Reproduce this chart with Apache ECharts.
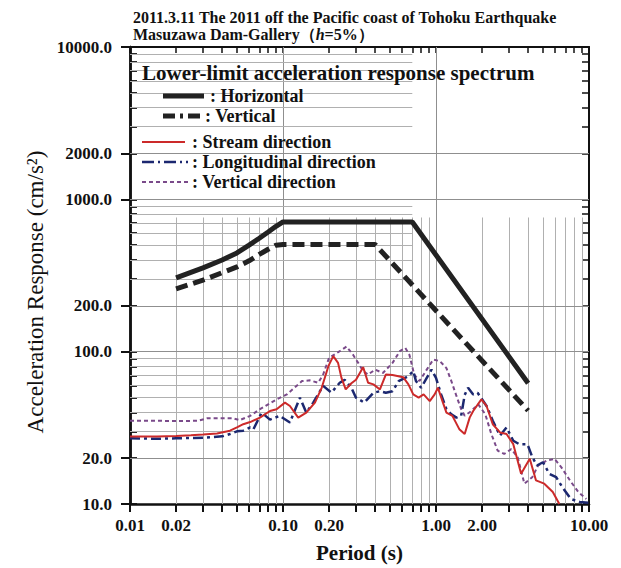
<!DOCTYPE html>
<html><head><meta charset="utf-8">
<script src="https://cdn.jsdelivr.net/npm/echarts@6/dist/echarts.min.js"></script>
<style>html,body{margin:0;padding:0;background:#fff}#c{width:621px;height:568px}</style>
</head><body><div id="c"></div>
<script>
// ---- tick labels ----
const xTickLabels = [0.01, 0.02, 0.1, 0.2, 1, 2, 10];
const yTickLabels = [10, 20, 100, 200, 1000, 2000, 10000];

// ---- lower-limit acceleration response spectrum ----
const horizT = [0.02, 0.03, 0.04, 0.05, 0.06, 0.07, 0.08, 0.09, 0.1, 0.7, 4.0];
const horizV = [305, 355, 400, 445, 500, 555, 610, 665, 710, 710, 62];
const vertT  = [0.02, 0.03, 0.04, 0.05, 0.06, 0.07, 0.08, 0.09, 0.1, 0.4, 4.0];
const vertV  = [258, 295, 330, 360, 395, 435, 470, 500, 505, 505, 41];

// ---- observed spectra ----
const streamT = [0.01,0.015,0.02,0.025,0.03,0.037,0.045,0.05,0.055,0.061,0.0707,0.0822,0.0908,0.103,0.111,0.1257,0.142,0.1617,0.179,0.198,0.213,0.229,0.241,0.257,0.28,0.30,0.334,0.36,0.39,0.43,0.47,0.52,0.61,0.66,0.71,0.77,0.83,0.91,0.98,1.03,1.11,1.17,1.28,1.42,1.54,1.66,1.75,1.98,2.14,2.35,2.62,2.89,3.2,3.6,4.1,4.5,5.1,5.8,6.4];
const streamV = [27.7,27.7,28.0,28.3,28.6,29.0,30.3,31.8,33.4,34.5,36.9,40.8,41.9,46.3,44,36.9,39.8,46.3,57.9,80.3,93.4,84.4,67.3,56.5,62,65.5,79.1,62.5,61,56.5,70.8,70.2,68,61,52.4,49.9,52.4,47.4,52.4,57.9,46.3,39.8,37.9,31,28.8,36.9,40.8,48.6,44,33.4,29.5,28.8,24.7,15.8,19.8,14.3,13.6,12.0,10.0];

const longT = [0.01,0.015,0.02,0.03,0.04,0.045,0.05,0.055,0.061,0.064,0.0725,0.0822,0.095,0.111,0.129,0.142,0.1576,0.183,0.207,0.235,0.253,0.28,0.30,0.34,0.39,0.43,0.47,0.52,0.57,0.66,0.71,0.74,0.80,0.87,0.935,1.0,1.08,1.17,1.26,1.36,1.46,1.54,1.62,1.75,1.87,2.14,2.35,2.62,2.89,3.2,3.5,3.96,4.26,4.57,5.0,5.5,6.1,6.7,7.6,8.7,9.9];
const longV = [27.0,26.8,27.0,27.2,27.8,28.8,30.0,30.3,31.8,30.9,39.8,35.8,37.9,34.3,49.9,39.8,46.3,59.6,53.8,62.5,65.4,57.9,49.9,46.3,53.7,55,53.7,55,64.1,69.1,74.5,64.1,57.9,67.3,76.2,67.3,52.4,41.9,38.8,36.9,38,52,58,52.4,53.7,44,35.2,28.1,31.8,26,24.7,24.7,20.3,17.9,18.8,15.8,15.0,12.9,10.8,10.3,10.2];

const vdirT = [0.01,0.015,0.02,0.028,0.032,0.047,0.052,0.061,0.0707,0.077,0.0908,0.106,0.133,0.15,0.17,0.183,0.2,0.235,0.26,0.287,0.31,0.334,0.36,0.40,0.45,0.52,0.58,0.63,0.67,0.72,0.78,0.87,0.96,1.06,1.17,1.26,1.36,1.46,1.54,1.66,1.89,2.1,2.3,2.53,2.79,3.1,3.42,3.78,4.26,4.65,5.26,5.95,6.6,7.5,8.5,9.6];
const vdirV = [35.2,35.2,35.0,35.2,36.6,36.6,35.5,37.9,41.9,44,48.6,52.4,64.1,64.8,62.5,70.8,91,100.7,108,95.5,84.4,74.5,70.8,76.2,72.5,84.4,100.7,105.8,95.5,70.8,64.1,76.2,88.8,86.7,78,64.1,51.2,42,38,40,45.1,38.8,28.8,22.4,21.3,22.9,20.3,13.6,15,17.9,19.2,19.8,17.4,14.3,12,10.8];

const pairs = (t, v) => t.map((x, i) => [x, v[i]]);

// ---- grid / tick helpers (axis styling, not data) ----
function multiples(decades, last) {
  const out = [];
  decades.forEach(d => { for (let k = 1; k <= 9; k++) out.push(+(d * k).toPrecision(6)); });
  out.push(last);
  return out;
}
const allX = multiples([0.01, 0.1, 1], 10);
const allY = multiples([10, 100, 1000], 10000);
const fullX = [0.1, 1];
const fullY = [20, 100, 200, 1000, 2000];

const gridLines = [];
allX.forEach(x => {
  if (x === 0.01 || x === 10) return;
  if (fullX.includes(x)) gridLines.push([{ coord: [x, 10], lineStyle: { color: '#8f8f8f' } }, { coord: [x, 10000] }]);
  else gridLines.push([{ coord: [x, 10] }, { coord: [x, 760] }]);
});
allY.forEach(y => {
  if (y === 10 || y === 10000) return;
  if (fullY.includes(y)) gridLines.push([{ coord: [0.01, y], lineStyle: { color: '#8f8f8f' } }, { coord: [10, y] }]);
  else gridLines.push([{ coord: [0.01, y] }, { coord: [0.7, y] }]);
});

const serif = "'Liberation Serif', 'DejaVu Serif', serif";
const chart = echarts.init(document.getElementById('c'), null, { renderer: 'svg' });

const tickStyle = w => ({ color: '#111', width: w });

chart.setOption({
  animation: false,
  backgroundColor: '#fff',
  title: {
    left: 128, top: 4,
    text: '{a|2011.3.11 The 2011 off the Pacific coast of Tohoku Earthquake}\n{a|Masuzawa Dam-Gallery（}{i|h}{a|=5%）}',
    textStyle: {
      rich: {
        a: { fontFamily: serif, fontWeight: 'bold', fontSize: 16, color: '#111', lineHeight: 17 },
        i: { fontFamily: serif, fontWeight: 'bold', fontStyle: 'italic', fontSize: 16, color: '#111', lineHeight: 17 }
      }
    }
  },
  grid: { left: 130, right: 32, top: 47, bottom: 61, containLabel: false },
  xAxis: [
    {
      type: 'log', logBase: 10, min: 0.01, max: 10, position: 'bottom',
      name: 'Period (s)', nameLocation: 'middle', nameGap: 38,
      nameTextStyle: { fontFamily: serif, fontWeight: 'bold', fontSize: 21, color: '#111' },
      axisLine: { lineStyle: { color: '#111', width: 2.5 } },
      axisTick: { customValues: allX, length: 8, inside: false, lineStyle: tickStyle(2) },
      axisLabel: { customValues: xTickLabels, formatter: v => Number(v).toFixed(2), fontFamily: serif, fontWeight: 'bold', fontSize: 17, color: '#111', margin: 13 },
      splitLine: { show: false }
    },
    {
      type: 'log', logBase: 10, min: 0.01, max: 10, position: 'top',
      axisLine: { lineStyle: { color: '#111', width: 2 } },
      axisTick: { customValues: allX, length: 6, inside: true, lineStyle: tickStyle(1.5) },
      axisLabel: { show: false }, splitLine: { show: false }
    }
  ],
  yAxis: [
    {
      type: 'log', logBase: 10, min: 10, max: 10000, position: 'left',
      axisLine: { lineStyle: { color: '#111', width: 2.5 } },
      axisTick: { customValues: yTickLabels, length: 9, inside: false, lineStyle: tickStyle(2) },
      axisLabel: { customValues: yTickLabels, formatter: v => Number(v).toFixed(1), fontFamily: serif, fontWeight: 'bold', fontSize: 17, color: '#111', margin: 18 },
      splitLine: { show: false }
    },
    {
      type: 'log', logBase: 10, min: 10, max: 10000, position: 'left',
      axisLine: { show: true, lineStyle: { color: '#111', width: 2.5 } },
      axisTick: { show: true, customValues: allY, length: 7, inside: true, lineStyle: tickStyle(1.8) },
      axisLabel: { show: false }, splitLine: { show: false }
    },
    {
      type: 'log', logBase: 10, min: 10, max: 10000, position: 'right',
      axisLine: { lineStyle: { color: '#111', width: 2 } },
      axisTick: { customValues: allY, length: 7, inside: true, lineStyle: tickStyle(1.5) },
      axisLabel: { show: false }, splitLine: { show: false }
    }
  ],
  series: [
    {
      name: 'grid', type: 'line', data: [], silent: true,
      markLine: {
        z: 1, silent: true, symbol: ['none', 'none'], label: { show: false },
        lineStyle: { color: '#b0b0b0', width: 1, type: 'solid' },
        emphasis: { disabled: true },
        data: gridLines
      }
    },
    { name: 'Horizontal', type: 'line', data: pairs(horizT, horizV), showSymbol: false, z: 3,
      lineStyle: { color: '#222', width: 5 } },
    { name: 'Vertical', type: 'line', data: pairs(vertT, vertV), showSymbol: false, z: 3,
      lineStyle: { color: '#222', width: 5, type: [12, 6] } },
    { name: 'Vertical direction', type: 'line', data: pairs(vdirT, vdirV), showSymbol: false, z: 4,
      lineStyle: { color: '#7a4a8a', width: 2, type: [4, 3] } },
    { name: 'Longitudinal direction', type: 'line', data: pairs(longT, longV), showSymbol: false, z: 5,
      lineStyle: { color: '#1c2870', width: 2.5, type: [10, 4, 3, 4] } },
    { name: 'Stream direction', type: 'line', data: pairs(streamT, streamV), showSymbol: false, z: 6,
      lineStyle: { color: '#cc2a2a', width: 2 } }
  ]
});

// ---- legend and y-axis title as graphics ----
const g = [];
function legLine(x1, x2, y, color, width, dash) {
  g.push({ type: 'line', shape: { x1, y1: y, x2, y2: y }, style: { stroke: color, lineWidth: width, lineDash: dash || null }, z: 20 });
}
function legText(x, y, text, size) {
  g.push({ type: 'text', x, y, style: { text, font: `bold ${size}px ${serif}`, fill: '#111', textVerticalAlign: 'middle' }, z: 20 });
}
legText(142, 73, 'Lower-limit acceleration response spectrum', 21);
legLine(163, 204, 96, '#222', 5);
legText(210, 96, ': Horizontal', 18);
legLine(163, 200, 116, '#222', 5, [12, 5, 3, 5]);
legText(205, 116, ': Vertical', 18);
legLine(142, 185, 142, '#cc2a2a', 2);
legText(192, 142, ': Stream direction', 18);
legLine(142, 188, 162, '#1c2870', 2.5, [12, 4, 2, 4]);
legText(192, 162, ': Longitudinal direction', 18);
legLine(142, 188, 182, '#7a4a8a', 2, [4, 3]);
legText(192, 182, ': Vertical direction', 18);

g.push({
  type: 'text', x: 35, y: 292, rotation: Math.PI / 2,
  style: { text: 'Acceleration Response (cm/s²)', font: `23px ${serif}`, fill: '#111', textAlign: 'center', textVerticalAlign: 'middle' }
});

chart.setOption({ graphic: g });
</script></body></html>
